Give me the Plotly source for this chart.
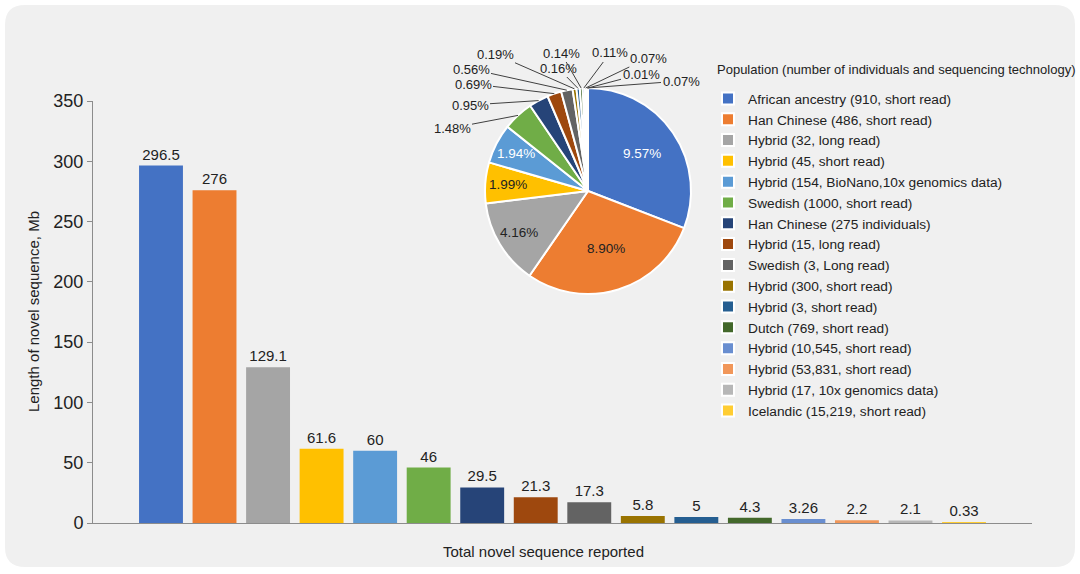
import math
import plotly.graph_objects as go

# ---------------- data ----------------
populations = [
    "African ancestry (910, short read)",
    "Han Chinese (486, short read)",
    "Hybrid (32, long read)",
    "Hybrid (45, short read)",
    "Hybrid (154, BioNano,10x genomics data)",
    "Swedish (1000, short read)",
    "Han Chinese (275 individuals)",
    "Hybrid (15, long read)",
    "Swedish (3, Long read)",
    "Hybrid (300, short read)",
    "Hybrid (3, short read)",
    "Dutch (769, short read)",
    "Hybrid (10,545, short read)",
    "Hybrid (53,831, short read)",
    "Hybrid (17, 10x genomics data)",
    "Icelandic (15,219, short read)",
]
novel_mb = [296.5, 276, 129.1, 61.6, 60, 46, 29.5, 21.3, 17.3, 5.8, 5, 4.3, 3.26, 2.2, 2.1, 0.33]
genome_pct_labels = ["9.57%", "8.90%", "4.16%", "1.99%", "1.94%", "1.48%", "0.95%", "0.69%",
                     "0.56%", "0.19%", "0.16%", "0.14%", "0.11%", "0.07%", "0.07%", "0.01%"]

colors = ["#4472C4", "#ED7D31", "#A5A5A5", "#FFC000", "#5B9BD5", "#70AD47", "#264478", "#9E480E",
          "#636363", "#997300", "#255E91", "#43682B", "#698ED0", "#F1975A", "#B7B7B7", "#FFCD33"]

W, H = 1080, 574
FONT = "Liberation Sans, Arial, sans-serif"
TXT = "#222222"


def px(x):
    return x / W


def py(y):
    return 1 - y / H


fig = go.Figure()

# ---------------- bars ----------------
fig.add_trace(go.Bar(
    x=populations, y=novel_mb,
    marker=dict(color=colors, line=dict(width=0)),
    width=0.82,
    texttemplate="%{y}", textposition="outside",
    textfont=dict(size=15, color=TXT, family=FONT),
    cliponaxis=False, showlegend=False, hoverinfo="skip",
))

# ---------------- pie ----------------
cx, cy, R = 588, 191, 103
fig.add_trace(go.Pie(
    labels=populations, values=novel_mb,
    textinfo="none",
    marker=dict(colors=colors, line=dict(color="white", width=2)),
    sort=False, direction="clockwise", rotation=0,
    domain=dict(x=[px(cx - R), px(cx + R)], y=[py(cy + R), py(cy - R)]),
    hoverinfo="skip",
))

# inside labels: radial position (fraction of radius) for the five big slices
inside_radius = {0: 0.64, 1: 0.58, 2: 0.78, 3: 0.78, 4: 0.79}
inside_color = {0: "white", 4: "white"}
# outside labels with leader lines (label text positions in pixels)
label_pos = {
    5: (452, 128), 6: (470, 105), 7: (473, 84), 8: (471, 69), 9: (495, 54),
    10: (558, 68), 11: (561, 53), 12: (610, 53), 13: (648, 58), 15: (641, 74), 14: (681, 81),
}
total = sum(novel_mb)
cum = 0.0
ann = []
for i, v in enumerate(novel_mb):
    mid = (cum + v / 2) / total * 2 * math.pi
    cum += v
    if i in inside_radius:
        rr = R * inside_radius[i]
        ann.append(dict(
            x=px(cx + rr * math.sin(mid)), y=py(cy - rr * math.cos(mid)),
            xref="paper", yref="paper", xanchor="center", yanchor="middle",
            text=genome_pct_labels[i], showarrow=False,
            font=dict(size=13.5, color=inside_color.get(i, TXT), family=FONT),
        ))
    elif i in label_pos:
        ex = cx + R * math.sin(mid)
        ey = cy - R * math.cos(mid)
        tx, ty = label_pos[i]
        ann.append(dict(
            x=px(ex), y=py(ey), xref="paper", yref="paper",
            ax=tx - ex, ay=ty - ey, axref="pixel", ayref="pixel",
            text=genome_pct_labels[i], showarrow=True, arrowhead=0,
            arrowwidth=1, arrowcolor="#404040", standoff=0,
            font=dict(size=13, color=TXT, family=FONT),
        ))

# axis titles and legend heading
ann.append(dict(x=px(543), y=py(551), xref="paper", yref="paper", showarrow=False,
                xanchor="center", yanchor="middle",
                text="Total novel sequence reported", font=dict(size=15, color=TXT, family=FONT)))
ann.append(dict(x=px(33), y=py(312), xref="paper", yref="paper", showarrow=False, textangle=-90,
                xanchor="center", yanchor="middle",
                text="Length of novel sequence, Mb", font=dict(size=15, color=TXT, family=FONT)))
ann.append(dict(x=px(715), y=py(69), xref="paper", yref="paper", showarrow=False,
                xanchor="left", yanchor="middle",
                text="Population (number of individuals and sequencing technology)",
                font=dict(size=13, color=TXT, family=FONT)))

# rounded background panel
x0, x1, y0, y1, r = 5, 1075, 5, 567, 20
path = (f"M {px(x0 + r)},{py(y0)} L {px(x1 - r)},{py(y0)} Q {px(x1)},{py(y0)} {px(x1)},{py(y0 + r)} "
        f"L {px(x1)},{py(y1 - r)} Q {px(x1)},{py(y1)} {px(x1 - r)},{py(y1)} "
        f"L {px(x0 + r)},{py(y1)} Q {px(x0)},{py(y1)} {px(x0)},{py(y1 - r)} "
        f"L {px(x0)},{py(y0 + r)} Q {px(x0)},{py(y0)} {px(x0 + r)},{py(y0)} Z")

fig.update_layout(
    width=W, height=H,
    margin=dict(l=0, r=0, t=0, b=0, autoexpand=False),
    paper_bgcolor="white", plot_bgcolor="rgba(0,0,0,0)",
    font=dict(family=FONT, color=TXT),
    shapes=[dict(type="path", path=path, xref="paper", yref="paper", layer="below",
                 fillcolor="#F0F0F0", line=dict(width=0))],
    annotations=ann,
    xaxis=dict(domain=[px(93), px(1032)], range=[-1.27, 16.27], showticklabels=False,
               ticks="", showline=True, linecolor="#8C8C8C", linewidth=1, showgrid=False,
               zeroline=False, fixedrange=True),
    yaxis=dict(domain=[py(523), py(101)], range=[0, 350], dtick=50, showgrid=False,
               showline=True, linecolor="#8C8C8C", linewidth=1, ticks="outside", ticklen=5,
               tickcolor="#8C8C8C", tickfont=dict(size=18, color=TXT, family=FONT),
               zeroline=False, fixedrange=True),
    legend=dict(
        x=px(708), y=py(83), xanchor="left", yanchor="top",
        bgcolor="rgba(0,0,0,0)", borderwidth=0,
        font=dict(size=13.7, color=TXT, family=FONT),
        traceorder="normal",
    ),
)

fig.write_html("out.html", config={"displayModeBar": False},
               post_script="document.body.style.margin='0';")
